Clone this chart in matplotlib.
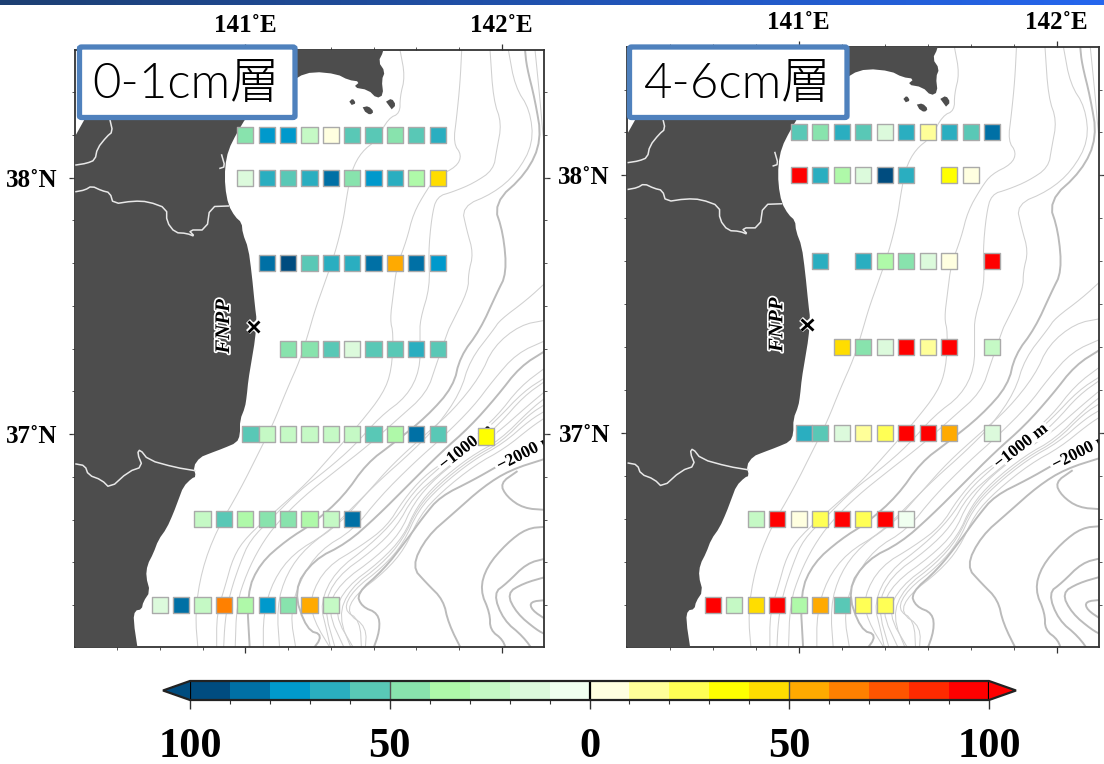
import numpy as np
import matplotlib
matplotlib.use("Agg")
import matplotlib.pyplot as plt
import matplotlib.patheffects as pe
from matplotlib.cm import ScalarMappable
from matplotlib.colors import BoundaryNorm, LinearSegmentedColormap, ListedColormap
from matplotlib.patches import FancyBboxPatch

W, H = 1104, 764

# bin colours of the scale, -100 ... 100 in steps of 10
bin_colors = ["#004c7f", "#0070a5", "#0099cc", "#2aaec0", "#59c8b6",
              "#88e3ad", "#aff9a9", "#c5f9c5", "#dcfadc", "#f0fff0",
              "#ffffe0", "#ffff99", "#ffff55", "#ffff00", "#ffdd00",
              "#ffaa00", "#ff8000", "#ff5500", "#ff2a00", "#ff0000"]
bin_edges = list(range(-100, 101, 10))

# stations, 0-1 cm layer (negative = blue side of the scale)
left_lon = [141.0, 141.083, 141.167, 141.25, 141.333, 141.417, 141.5, 141.583, 141.667, 141.75,
            141.0, 141.083, 141.167, 141.25, 141.333, 141.417, 141.5, 141.583, 141.667, 141.75,
            141.083, 141.167, 141.25, 141.333, 141.417, 141.5, 141.583, 141.667, 141.75,
            141.167, 141.25, 141.333, 141.417, 141.5, 141.583, 141.667, 141.75,
            141.02, 141.083, 141.167, 141.25, 141.333, 141.417, 141.5, 141.583, 141.667, 141.75, 141.94,
            140.833, 140.917, 141.0, 141.083, 141.167, 141.25, 141.333, 141.417,
            140.667, 140.75, 140.833, 140.917, 141.0, 141.083, 141.167, 141.25, 141.333]
left_lat = [38.167] * 10 + [38.0] * 10 + [37.667] * 9 + [37.333] * 8 + [37.0] * 10 + [36.99] + [36.667] * 8 + [36.333] * 9
left_val = [-45, -75, -75, -25, 5, -55, -55, -45, -55, -65,
            -15, -65, -55, -65, -85, -45, -75, -65, -35, 45,
            -85, -95, -55, -65, -65, -85, 55, -85, -75,
            -45, -45, -55, -15, -55, -55, -65, -55,
            -55, -25, -25, -25, -25, -25, -55, -35, -85, -55, 35,
            -25, -55, -35, -45, -45, -35, -25, -85,
            -15, -85, -25, 65, -35, -75, -45, 55, -25]

# stations, 4-6 cm layer
right_lon = [141.0, 141.083, 141.167, 141.25, 141.333, 141.417, 141.5, 141.583, 141.667, 141.75,
             141.0, 141.083, 141.167, 141.25, 141.333, 141.417, 141.583, 141.667,
             141.083, 141.25, 141.333, 141.417, 141.5, 141.583, 141.75,
             141.167, 141.25, 141.333, 141.417, 141.5, 141.583, 141.75,
             141.02, 141.083, 141.167, 141.25, 141.333, 141.417, 141.5, 141.583, 141.75,
             140.833, 140.917, 141.0, 141.083, 141.167, 141.25, 141.333, 141.417,
             140.667, 140.75, 140.833, 140.917, 141.0, 141.083, 141.167, 141.25, 141.333]
right_lat = [38.167] * 10 + [38.0] * 8 + [37.667] * 7 + [37.333] * 7 + [37.0] * 9 + [36.667] * 8 + [36.333] * 9
right_val = [-55, -45, -65, -55, -15, -65, 15, -65, -55, -85,
             95, -65, -35, -15, -95, -65, 35, 5,
             -65, -65, -35, -45, -15, 5, 95,
             45, -45, -15, 95, 15, 95, -25,
             -65, -55, -15, 15, 25, 95, 95, 55, -15,
             -25, 95, 5, 25, 95, 25, 95, -5,
             95, -25, 45, 95, -35, 55, -55, 25, 25]

# map traces: x, y on a grid of 769 per degree (141E = 556, 38N = 533)
coast = [(235, 1960), (220, 1860), (225, 1832), (245, 1828), (250, 1805), (270, 1775), (258, 1730),
         (262, 1695), (280, 1660), (295, 1620), (320, 1585), (340, 1540), (355, 1500), (370, 1460),
         (395, 1435), (408, 1430), (400, 1400), (420, 1372), (450, 1360), (490, 1345), (530, 1328),
         (540, 1305), (540, 1260), (555, 1222), (560, 1190), (565, 1140), (575, 1080), (585, 1020),
         (590, 960), (585, 920), (575, 820), (565, 745), (548, 700), (545, 668), (525, 650), (505, 615),
         (495, 560), (495, 500), (505, 450), (530, 400), (560, 350), (620, 300), (712, 230), (760, 215),
         (830, 222), (865, 240), (900, 245), (880, 262), (925, 270), (950, 295), (970, 285), (965, 240),
         (975, 215), (955, 185), (970, 155), (975, 120), (-50, 120), (-50, 1960)]
islands = [[(868, 305), (878, 295), (888, 310), (875, 315)],
           [(908, 322), (925, 318), (942, 335), (930, 345), (915, 335)],
           [(978, 305), (995, 295), (1008, 315), (995, 328)]]
borders = [[(48, 495), (80, 490), (105, 480), (112, 445), (140, 410), (158, 395), (150, 360)],
           [(48, 575), (75, 570), (95, 558), (125, 572), (150, 578), (160, 612), (220, 603), (265, 605),
            (320, 625), (320, 665), (345, 698), (380, 700), (405, 710), (385, 690), (440, 690), (450, 620),
            (505, 618)],
           [(48, 1392), (75, 1397), (85, 1425), (125, 1440), (150, 1465), (205, 1415), (248, 1400),
            (232, 1360), (240, 1348), (265, 1380), (345, 1402), (405, 1412)],
           [(485, 465), (495, 500), (480, 505)]]

thin_contours = [
    [(1020, 150), (1035, 230), (1020, 290), (1020, 340), (985, 355), (950, 420), (905, 455), (875, 510),
     (860, 590), (850, 660), (825, 760), (790, 860), (765, 930), (745, 1000), (720, 1080), (680, 1170),
     (640, 1270), (600, 1350), (540, 1470), (470, 1590), (425, 1710), (405, 1840), (415, 1960)],
    [(1205, 150), (1200, 250), (1190, 350), (1180, 430), (1205, 465), (1190, 500), (1130, 530), (1100, 570),
     (1060, 640), (1040, 720), (1010, 800), (1000, 880), (990, 960), (1000, 1000), (995, 1110), (970, 1180),
     (900, 1270), (820, 1360), (740, 1450), (650, 1530), (560, 1610), (520, 1670), (495, 1760), (470, 1840),
     (470, 1960)],
    [(1290, 150), (1300, 300), (1325, 370), (1310, 450), (1300, 510), (1240, 550), (1180, 575), (1130, 590),
     (1115, 650), (1105, 760), (1110, 860), (1080, 960), (1080, 1010), (1080, 1110), (1040, 1190), (960, 1250),
     (880, 1340), (800, 1410), (720, 1470), (640, 1550), (570, 1620), (540, 1690), (510, 1780), (495, 1860),
     (490, 1960)],
    [(1345, 150), (1365, 260), (1410, 330), (1420, 430), (1370, 520), (1300, 580), (1205, 620), (1220, 690),
     (1240, 760), (1225, 820), (1225, 870), (1170, 980), (1165, 990), (1130, 1090), (1100, 1180), (1010, 1260),
     (920, 1340), (830, 1410), (730, 1490), (650, 1570), (600, 1640), (560, 1720), (530, 1810), (525, 1960)],
    [(1425, 150), (1440, 300), (1450, 420), (1460, 460)],
    [(1460, 845), (1400, 900), (1320, 960), (1300, 990), (1230, 1080), (1200, 1180), (1130, 1280), (1050, 1360),
     (960, 1440), (880, 1520), (800, 1600), (700, 1660), (640, 1740), (610, 1840), (610, 1960)],
    [(1460, 960), (1380, 975), (1300, 1040), (1260, 1130), (1180, 1230), (1100, 1300), (1000, 1390), (920, 1480),
     (840, 1570), (740, 1640), (680, 1720), (650, 1820), (660, 1960)],
    [(1460, 1020), (1370, 1060), (1300, 1140), (1240, 1220), (1150, 1310), (1060, 1390), (960, 1490), (880, 1590),
     (780, 1650), (720, 1740), (690, 1840), (710, 1960)],
    [(1460, 1100), (1380, 1160), (1310, 1250), (1240, 1310), (1160, 1380), (1090, 1430), (1030, 1500), (980, 1580),
     (900, 1640), (800, 1700), (750, 1790), (760, 1860), (820, 1960)],
    [(1460, 1130), (1390, 1175), (1310, 1260), (1235, 1325), (1135, 1405), (1060, 1475), (1005, 1560), (930, 1635),
     (825, 1715), (780, 1810), (800, 1890), (815, 1960)],
    [(1460, 1140), (1390, 1190), (1320, 1270), (1240, 1340), (1140, 1420), (1060, 1490), (1010, 1580), (940, 1650),
     (830, 1730), (790, 1820), (830, 1960)],
    [(1460, 1170), (1400, 1220), (1310, 1300), (1230, 1355), (1130, 1430), (1060, 1510), (1020, 1600), (950, 1670),
     (840, 1750), (800, 1830), (860, 1960)],
    [(1460, 1190), (1410, 1230), (1320, 1320), (1230, 1370), (1130, 1450), (1070, 1520), (1030, 1610), (960, 1685),
     (860, 1760), (820, 1840), (890, 1960)],
    [(1460, 1210), (1405, 1245), (1325, 1325), (1235, 1375), (1135, 1455), (1072, 1525), (1028, 1620), (965, 1692),
     (870, 1765), (835, 1850), (880, 1960)],
    [(1460, 1230), (1410, 1260), (1330, 1330), (1240, 1380), (1140, 1460), (1075, 1530), (1030, 1630), (970, 1700),
     (880, 1770), (850, 1830), (900, 1860), (905, 1960)],
    [(1460, 1250), (1415, 1280), (1335, 1345), (1245, 1395), (1145, 1475), (1080, 1545), (1035, 1645), (975, 1715),
     (885, 1785), (860, 1840), (920, 1880), (915, 1960)],
]
thick_contours = [
    [(1395, 150), (1400, 200), (1425, 300), (1445, 420), (1400, 520), (1300, 610), (1330, 700), (1340, 820),
     (1310, 880), (1260, 990), (1200, 1070), (1180, 1160), (1100, 1250), (1000, 1330), (920, 1390), (850, 1490),
     (760, 1570), (680, 1620), (600, 1690), (560, 1780), (570, 1960)],
    [(1460, 1050), (1380, 1100), (1310, 1190), (1230, 1280), (1140, 1360), (1050, 1450), (950, 1550), (860, 1630),
     (760, 1680), (700, 1770), (740, 1890), (790, 1905), (750, 1960)],
    [(1310, 1400), (1240, 1440), (1140, 1490), (1090, 1550), (1040, 1620), (970, 1710), (890, 1780), (905, 1820),
     (955, 1840), (960, 1890), (935, 1960)],
    [(1460, 1375), (1350, 1410), (1270, 1460), (1180, 1540), (1100, 1610), (1055, 1700), (1100, 1750), (1150, 1800),
     (1165, 1870), (1210, 1960)],
    [(1460, 1530), (1390, 1525), (1340, 1490), (1320, 1450), (1370, 1415)],
    [(1460, 1580), (1400, 1585), (1340, 1630), (1280, 1700), (1260, 1770), (1290, 1840), (1290, 1890), (1330, 1920),
     (1340, 1960)],
    [(1460, 1675), (1400, 1690), (1340, 1750), (1300, 1780), (1330, 1860), (1390, 1910), (1425, 1960)],
    [(1460, 1730), (1390, 1750), (1340, 1780), (1370, 1840), (1430, 1890), (1460, 1905)],
    [(1460, 1800), (1410, 1805), (1415, 1830), (1460, 1860)],
]


def to_lonlat(pts, passes=0):
    # rounds the corners of a hand traced line, the ends stay where they are
    a = np.array(pts, dtype=float)
    for i in range(passes):
        q = 0.75 * a[:-1] + 0.25 * a[1:]
        r = 0.25 * a[:-1] + 0.75 * a[1:]
        mid = np.empty((2 * len(q), 2))
        mid[0::2] = q
        mid[1::2] = r
        a = np.vstack([a[:1], mid, a[-1:]])
    return 141 + (a[:, 0] - 556) / 769, 38 - (a[:, 1] - 533) / 769


cmap = ListedColormap(bin_colors)
cmap.set_under(bin_colors[0])
cmap.set_over(bin_colors[-1])
norm = BoundaryNorm(bin_edges, cmap.N)

plt.rcParams["font.family"] = ["Liberation Serif", "DejaVu Serif"]
fig = plt.figure(figsize=(W / 100, H / 100), dpi=100)


def add_ax(x0, y0, x1, y1):
    return fig.add_axes([x0 / W, 1 - y1 / H, (x1 - x0) / W, (y1 - y0) / H])


# gradient strip along the top edge
strip = add_ax(0, 0, W, 5.5)
strip.imshow(np.linspace(0, 1, 256).reshape(1, -1), aspect="auto",
             cmap=LinearSegmentedColormap.from_list("strip", ["#1d3f72", "#2566ee"]))
strip.axis("off")


def draw_panel(box, lon, lat, val, title, title_box):
    ax = add_ax(*box)
    ax.set_xlim(140.3355, 142.165)
    ax.set_ylim(36.169, 38.498)

    for line in thin_contours:
        ax.plot(*to_lonlat(line, 2), color="#d0d0d0", lw=0.75, zorder=1)
    for line in thick_contours:
        ax.plot(*to_lonlat(line, 2), color="#bbbbbb", lw=1.4, zorder=1)

    halo = [pe.withStroke(linewidth=5, foreground="white")]
    ax.text(141.862, 36.947, "\u22121000 m", rotation=38, fontsize=12.5, fontweight="bold",
            ha="center", va="center", path_effects=halo, zorder=2, clip_on=True)
    ax.text(142.096, 36.926, "\u22122000 m", rotation=27, fontsize=12.5, fontweight="bold",
            ha="center", va="center", path_effects=halo, zorder=2, clip_on=True)

    ax.fill(*to_lonlat(coast, 1), color="#4d4d4d", lw=0, zorder=3)
    for isl in islands:
        ax.fill(*to_lonlat(isl, 1), color="#4d4d4d", lw=0, zorder=3)
    for line in borders:
        ax.plot(*to_lonlat(line, 1), color="#e8e8e8", lw=1.1, zorder=4)

    ax.text(140.917, 37.42, "FNPP", rotation=90, fontsize=15, fontweight="bold", style="italic",
            ha="center", va="center", color="black", zorder=5,
            path_effects=[pe.withStroke(linewidth=2.5, foreground="white")])
    ax.plot([141.032], [37.42], marker="x", ms=8, mew=2.0, color="black", zorder=5,
            path_effects=[pe.withStroke(linewidth=4, foreground="white")])

    ax.scatter(lon, lat, c=val, cmap=cmap, norm=norm, marker="s", s=135,
               edgecolors="#aaaaaa", linewidths=1.0, zorder=6)

    ax.set_xticks([141, 142])
    ax.set_xticklabels(["141\u02daE", "142\u02daE"], fontsize=18, fontweight="bold")
    ax.set_yticks([37, 38])
    ax.set_yticklabels(["37\u02daN", "38\u02daN"], fontsize=18, fontweight="bold")
    ax.set_xticks(np.arange(140.5, 142.1, 1 / 6), minor=True)
    ax.set_yticks(np.arange(36.333, 38.45, 1 / 6), minor=True)
    ax.tick_params(which="major", direction="out", length=4.5, width=0.9, color="#333333",
                   top=True, bottom=True, left=True, right=True, labeltop=True, labelbottom=False, pad=8)
    ax.tick_params(axis="x", which="major", pad=4.5)
    ax.tick_params(which="minor", direction="out", length=2, width=0.7, color="#555555",
                   top=True, bottom=True, left=True, right=True)
    for s in ax.spines.values():
        s.set_color("#333333")
        s.set_linewidth(1.3)

    # label box, drawn in figure pixels
    x0, y0, x1, y1 = title_box
    fig.add_artist(FancyBboxPatch((x0 / W, 1 - y1 / H), (x1 - x0) / W, (y1 - y0) / H,
                                  boxstyle="round,pad=0,rounding_size=0.002", transform=fig.transFigure,
                                  facecolor="white", edgecolor="#4f81bd", linewidth=3.8, zorder=10))
    fig.text((x0 + x1) / 2 / W - 0.001, 1 - ((y0 + y1) / 2 + 2) / H, title, fontsize=35.5, ha="center", va="center",
             family=["Lato", "Noto Sans CJK JP", "DejaVu Sans"], fontweight=300, color="black", zorder=11)
    return ax


draw_panel((75, 50, 544, 647), left_lon, left_lat, left_val, "0-1cm層", (79.5, 47, 295, 117.5))
draw_panel((627.3, 47, 1099.3, 647), right_lon, right_lat, right_val, "4-6cm層", (629.5, 47, 847, 117.5))

# scale bar, the axes takes in the two end triangles
cax = add_ax(163, 681, 1016, 700)
cb = fig.colorbar(ScalarMappable(norm=norm, cmap=cmap), cax=cax, orientation="horizontal",
                  extend="both", extendfrac=27 / 799, spacing="proportional")
cb.set_ticks([-100, -50, 0, 50, 100])
cb.set_ticklabels(["100", "50", "0", "50", "100"])
cb.ax.set_xticks(list(range(-90, 100, 10)), minor=True)
cb.ax.tick_params(which="major", length=6.5, width=1.0, color="#333333", labelsize=30.5, pad=14)
cb.ax.tick_params(which="minor", length=3, width=0.8, color="#333333")
for t in cb.ax.get_xticklabels():
    t.set_fontweight("bold")
cb.outline.set_linewidth(1.6)
cb.outline.set_edgecolor("#222222")
cb.ax.vlines([-50, 50], -1, 2, color="#555555", lw=1.0)
cb.ax.vlines([-100, 0, 100], -1, 2, color="black", lw=1.6)

fig.savefig("out.png", dpi=100)
